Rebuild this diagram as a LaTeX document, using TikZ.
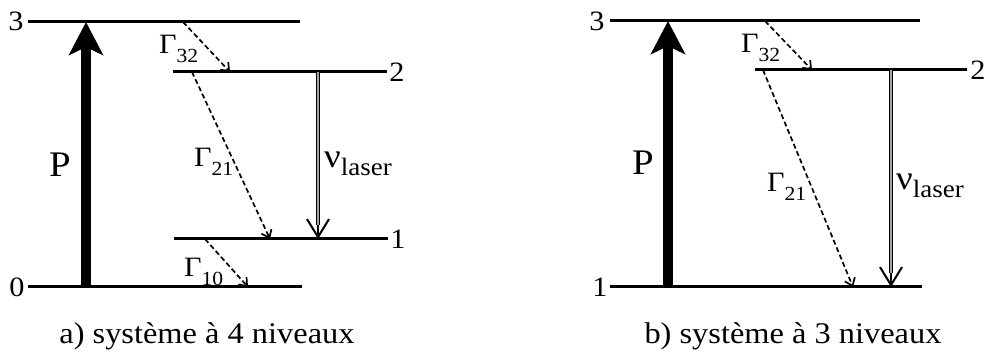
\documentclass[tikz,border=0pt]{standalone}
\usepackage{fontspec}
\setmainfont[FakeStretch=1.08]{Liberation Serif}
\usetikzlibrary{arrows.meta,calc}
\newcommand{\gam}[1]{\fontsize{28}{28}\selectfont Γ\raisebox{-9pt}{\fontsize{20}{20}\selectfont #1}}
\newcommand{\nulaser}{\fontsize{34}{34}\selectfont ν\raisebox{-8pt}{\fontsize{25}{25}\selectfont laser}}
\begin{document}
\begin{tikzpicture}[x=1pt,y=-1pt,
  level/.style={line width=3pt},
  lvlabel/.style={inner sep=0pt,font=\fontsize{28}{28}\selectfont},
  pump/.style={line width=9.5pt,-{Stealth[length=33pt,width=34pt,inset=8pt]}},
  decay/.style={line width=1.7pt,dash pattern=on 5pt off 3pt,-{Straight Barb[length=7pt,width=11pt,line width=1.7pt]}},
  lasershaft/.style={line width=1.3pt,double=black!35,double distance=1.4pt},
  laserhead/.style={line width=2pt,-{Straight Barb[length=18pt,width=22pt,line width=2pt]}},
  glabel/.style={inner sep=0pt,anchor=base west},
  caption/.style={inner sep=0pt,anchor=base,font=\fontsize{30}{30}\selectfont}]
\useasboundingbox (0,0) rectangle (989,355);
% ---------- left ----------
\coordinate (L3a) at (28,22);  \coordinate (L3b) at (300,22);
\coordinate (L2a) at (173,72); \coordinate (L2b) at (387,72);
\coordinate (L1a) at (174,239);\coordinate (L1b) at (388,239);
\coordinate (L0a) at (28,287); \coordinate (L0b) at (302,287);
\coordinate (PL0) at (86,287); \coordinate (PL3) at (86,22);
\coordinate (G32La) at (183,22); \coordinate (G32Lb) at (230,72);
\coordinate (G21La) at (192,72); \coordinate (G21Lb) at (270,239);
\coordinate (G10La) at (205,239);\coordinate (G10Lb) at (248,287);
\coordinate (NuLa) at (318,72); \coordinate (NuLm) at (318,225); \coordinate (NuLb) at (318,239);
\draw[level] (L3a) -- (L3b);
\draw[level] (L2a) -- (L2b);
\draw[level] (L1a) -- (L1b);
\draw[level] (L0a) -- (L0b);
\node[lvlabel] (n3L) at (16,21) {3};
\node[lvlabel] (n2L) at (397,72) {2};
\node[lvlabel] (n1L) at (398,239) {1};
\node[lvlabel] (n0L) at (17,287) {0};
\draw[pump] (PL0) -- (PL3);
\node[glabel,font=\fontsize{36}{36}\selectfont] (PLl) at (49,177) {P};
\draw[decay] (G32La) -- (G32Lb);
\draw[decay] (G21La) -- (G21Lb);
\draw[decay] (G10La) -- (G10Lb);
\node[glabel] (g32L) at (159,54) {\gam{32}};
\node[glabel] (g21L) at (194,167) {\gam{21}};
\node[glabel] (g10L) at (184,277) {\gam{10}};
\draw[lasershaft] (NuLa) -- (NuLm);
\draw[laserhead] (NuLm) -- (NuLb);
\node[glabel] (nuL) at (324,168) {\nulaser};
\node[caption] (capA) at (207,344) {a) système à 4 niveaux};
% ---------- right ----------
\coordinate (R3a) at (610,21);  \coordinate (R3b) at (920,21);
\coordinate (R2a) at (755,70);  \coordinate (R2b) at (967,70);
\coordinate (R1a) at (610,287); \coordinate (R1b) at (922,287);
\coordinate (PR1) at (668,287); \coordinate (PR3) at (668,21);
\coordinate (G32Ra) at (765,21); \coordinate (G32Rb) at (812,70);
\coordinate (G21Ra) at (763,70); \coordinate (G21Rb) at (853,287);
\coordinate (NuRa) at (891,70); \coordinate (NuRm) at (891,273); \coordinate (NuRb) at (891,287);
\draw[level] (R3a) -- (R3b);
\draw[level] (R2a) -- (R2b);
\draw[level] (R1a) -- (R1b);
\node[lvlabel] (n3R) at (597,21) {3};
\node[lvlabel] (n2R) at (978,70) {2};
\node[lvlabel] (n1R) at (600,287) {1};
\draw[pump] (PR1) -- (PR3);
\node[glabel,font=\fontsize{36}{36}\selectfont] (PRl) at (632,175) {P};
\draw[decay] (G32Ra) -- (G32Rb);
\draw[decay] (G21Ra) -- (G21Rb);
\node[glabel] (g32R) at (741,53) {\gam{32}};
\node[glabel] (g21R) at (767,192) {\gam{21}};
\draw[lasershaft] (NuRa) -- (NuRm);
\draw[laserhead] (NuRm) -- (NuRb);
\node[glabel] (nuR) at (896,190) {\nulaser};
\node[caption] (capB) at (793,344) {b) système à 3 niveaux};
\end{tikzpicture}
\end{document}
